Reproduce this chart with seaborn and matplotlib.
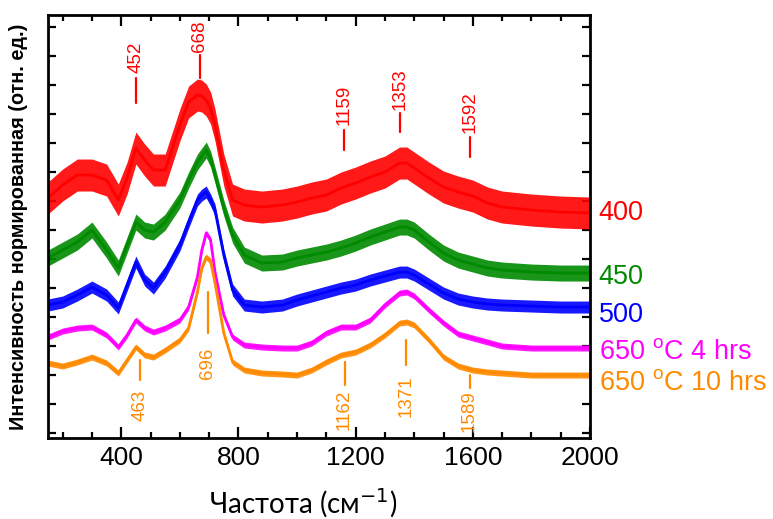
import numpy as np
import pandas as pd
import matplotlib
matplotlib.use("Agg")
import matplotlib.pyplot as plt
import seaborn as sns

# ---------------- data ----------------
wavenumber = [150, 200, 250, 300, 350, 390, 420, 450, 480, 510, 550, 600, 630, 660,
              675, 690, 705, 720, 750, 780, 820, 880, 950, 1000, 1050, 1100, 1150, 1200,
              1250, 1300, 1350, 1375, 1400, 1450, 1500, 1550, 1600, 1650, 1700, 1800,
              1900, 2000]

# normalized intensity, arbitrary units (curves offset as in the figure)
int_400 = [235, 248, 258, 258, 253, 233, 255, 285, 273, 263, 263, 308, 331, 338,
           337, 333, 325, 308, 263, 233, 228, 226, 228, 231, 235, 238, 245, 250,
           256, 261, 270, 270, 265, 255, 246, 241, 237, 230, 226, 223, 221, 220]
int_450 = [175, 183, 191, 203, 183, 165, 188, 211, 203, 201, 211, 233, 253, 271,
           277, 283, 274, 258, 225, 198, 178, 170, 171, 175, 178, 181, 185, 190,
           196, 201, 206, 206, 203, 191, 180, 173, 169, 165, 163, 161, 160, 160]
int_500 = [128, 131, 138, 146, 138, 125, 148, 171, 153, 145, 161, 188, 211, 233,
           238, 241, 233, 223, 178, 143, 128, 126, 128, 133, 137, 141, 145, 148,
           153, 157, 161, 161, 158, 149, 140, 134, 131, 129, 128, 127, 126, 126]
int_650_4h = [96, 102, 105, 106, 98, 86, 98, 113, 105, 101, 105, 113, 126, 156,
              183, 200, 193, 161, 118, 96, 88, 86, 85, 85, 90, 100, 106, 106,
              113, 128, 140, 141, 137, 123, 110, 99, 95, 91, 87, 85, 85, 85]
int_650_10h = [70, 67, 71, 76, 70, 60, 73, 86, 78, 76, 83, 93, 105, 141,
               165, 176, 172, 150, 100, 71, 63, 60, 59, 58, 63, 71, 78, 81,
               88, 98, 110, 111, 108, 93, 76, 67, 63, 61, 60, 58, 58, 58]

# visible noise spread (half-height of the noisy band) for each spectrum
noise_spread = [16, 8, 6, 3, 3]

series_names = ["400", "450", "500", "650 $^\\mathregular{o}$C 4 hrs", "650 $^\\mathregular{o}$C 10 hrs"]
series_values = [int_400, int_450, int_500, int_650_4h, int_650_10h]
series_colors = ["#FF0000", "#008A00", "#0000FF", "#FF00FF", "#FF8A00"]

# peak annotations
peaks_top = [452, 668, 1159, 1353, 1592]          # red (400) spectrum
peaks_bottom = [463, 696, 1162, 1371, 1589]       # orange (650 C 10 hrs) spectrum

# ---------------- layout ----------------
peaks_top_line = [(330, 355), (355, 378), (283, 303), (301, 320), (276, 296)]
peaks_top_text = [360, 381, 308, 323, 300]
peaks_bottom_line = [(53, 73), (100, 141), (48, 71), (68, 93), (45, 58)]
peaks_bottom_text = [43, 85, 43, 58, 43]
label_y = [220, 156, 118, 81, 50]

sns.set_theme(style="ticks")
plt.rcParams["font.family"] = ["Liberation Sans", "DejaVu Sans"]

fig = plt.figure(figsize=(7.73, 5.19), dpi=100)
ax = fig.add_axes([0.0621, 0.156, 0.7012, 0.815])

rows = []
for name, vals in zip(series_names, series_values):
    for x, y in zip(wavenumber, vals):
        rows.append({"wavenumber": x, "intensity": y, "sample": name})
df = pd.DataFrame(rows)

x_arr = np.array(wavenumber, dtype=float)
for vals, spread, col in zip(series_values, noise_spread, series_colors):
    v = np.array(vals, dtype=float)
    ax.fill_between(x_arr, v - spread, v + spread, color=col, lw=0, alpha=0.9)

sns.lineplot(data=df, x="wavenumber", y="intensity", hue="sample",
             palette=dict(zip(series_names, series_colors)), legend=False,
             estimator=None, sort=False, lw=2.0, ax=ax)

# annotations
for p, (y0, y1), ty in zip(peaks_top, peaks_top_line, peaks_top_text):
    ax.plot([p, p], [y0, y1], color="#FF0000", lw=1.6)
    ax.text(p, ty, str(p), rotation=90, ha="center", va="bottom",
            color="#FF0000", fontsize=13.5)
for p, (y0, y1), ty in zip(peaks_bottom, peaks_bottom_line, peaks_bottom_text):
    ax.plot([p, p], [y0, y1], color="#FF8A00", lw=1.6)
    ax.text(p, ty, str(p), rotation=90, ha="center", va="top",
            color="#FF8A00", fontsize=13.5)

# series labels at right
for name, col, ly in zip(series_names, series_colors, label_y):
    ax.text(2030, ly, name, color=col, fontsize=19.5, ha="left", va="center",
            clip_on=False)

ax.set_xlim(150, 2000)
ax.set_ylim(-5, 418)
ax.set_xticks([400, 800, 1200, 1600, 2000])
ax.set_xticks(np.arange(200, 2001, 100), minor=True)
ax.set_yticks(np.arange(0, 407, 29))
ax.set_yticklabels([])

ax.tick_params(axis="both", which="both", direction="in", top=True, right=True,
               width=1.6, color="black", labelcolor="black")
ax.tick_params(axis="x", which="major", length=8, labelsize=19, pad=6)
ax.tick_params(axis="x", which="minor", length=4)
ax.tick_params(axis="y", which="major", length=6)

for s in ax.spines.values():
    s.set_linewidth(2.0)
    s.set_color("black")

ax.set_xlabel("Частота (см$^{-1}$)", fontsize=20, family=["Lato", "DejaVu Sans"],
              labelpad=6, color="black")
ax.xaxis.set_label_coords(0.47, -0.115)
ax.set_ylabel("Интенсивность нормированная (отн. ед.)", fontsize=14.3,
              fontweight="bold", color="black")
ax.yaxis.set_label_coords(-0.036, 0.5)

fig.savefig("out.png", dpi=100)
